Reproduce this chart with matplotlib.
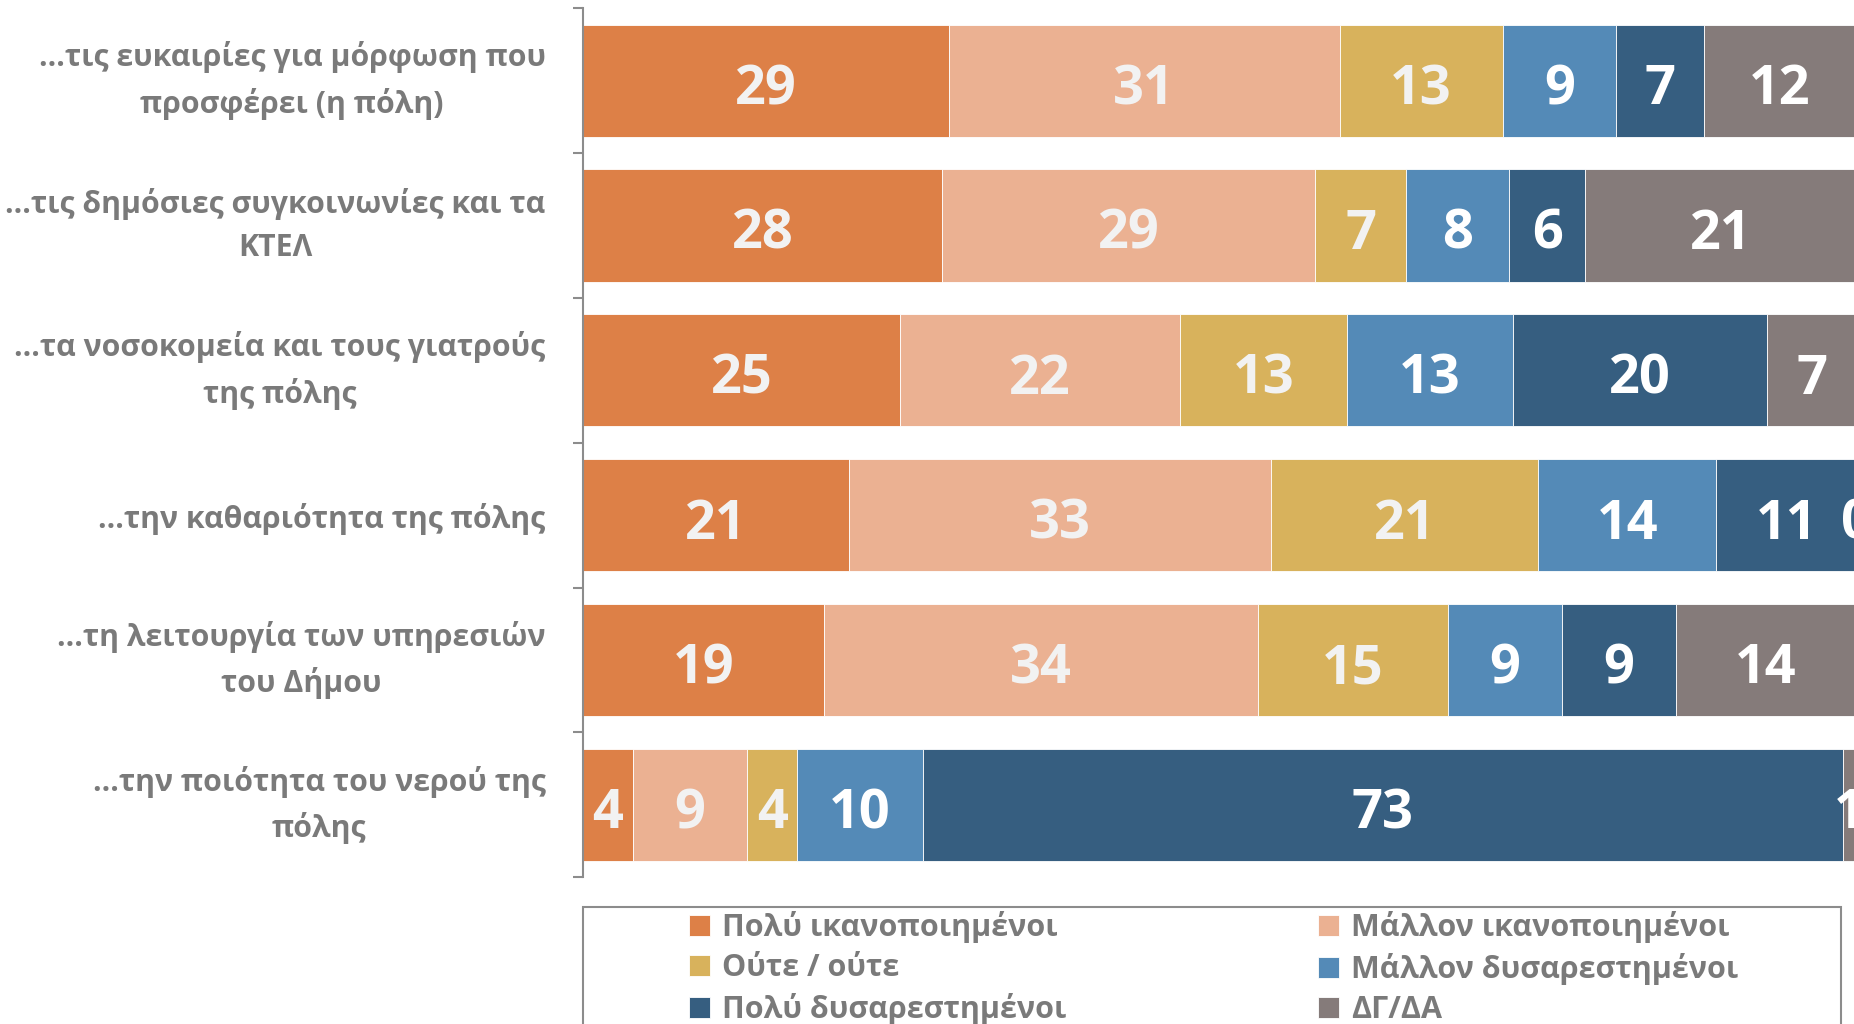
import numpy as np
import matplotlib.pyplot as plt
from matplotlib.patches import Rectangle

plt.rcParams['font.family'] = ['Open Sans', 'DejaVu Sans']

categories = [
    "...τις ευκαιρίες για μόρφωση που\nπροσφέρει (η πόλη)",
    "...τις δημόσιες συγκοινωνίες και τα\nΚΤΕΛ",
    "...τα νοσοκομεία και τους γιατρούς\nτης πόλης",
    "...την καθαριότητα της πόλης",
    "...τη λειτουργία των υπηρεσιών\nτου Δήμου",
    "...την ποιότητα του νερού της\nπόλης",
]

series_names = ["Πολύ ικανοποιημένοι", "Μάλλον ικανοποιημένοι", "Ούτε / ούτε",
                "Μάλλον δυσαρεστημένοι", "Πολύ δυσαρεστημένοι", "ΔΓ/ΔΑ"]
colors = ["#DD8047", "#EBB192", "#D8B25C", "#548AB7", "#365E80", "#857B7A"]
label_colors = ["#F2F2F2", "#F2F2F2", "#F2F2F2", "white", "white", "white"]

# segment widths (%)
polu_ikan = [28.7, 28.2, 24.9, 20.9, 18.9, 3.9]
mallon_ikan = [30.7, 29.3, 22.0, 33.1, 34.1, 9.0]
oute = [12.8, 7.1, 13.1, 21.0, 14.9, 3.9]
mallon_dys = [8.9, 8.1, 13.0, 14.0, 9.0, 9.9]
polu_dys = [6.9, 6.0, 20.0, 11.0, 8.9, 72.2]
dg_da = [12.0, 21.3, 7.0, 0.0, 14.2, 1.1]

# rounded numbers printed on the bars
polu_ikan_lbl = [29, 28, 25, 21, 19, 4]
mallon_ikan_lbl = [31, 29, 22, 33, 34, 9]
oute_lbl = [13, 7, 13, 21, 15, 4]
mallon_dys_lbl = [9, 8, 13, 14, 9, 10]
polu_dys_lbl = [7, 6, 20, 11, 9, 73]
dg_da_lbl = [12, 21, 7, 0, 14, 1]

values = [polu_ikan, mallon_ikan, oute, mallon_dys, polu_dys, dg_da]
labels = [polu_ikan_lbl, mallon_ikan_lbl, oute_lbl, mallon_dys_lbl, polu_dys_lbl, dg_da_lbl]

grey = "#7A7A7A"

fig = plt.figure(figsize=(18.54, 10.24), dpi=100)
ax = fig.add_axes([0.3145, 0.1433, 0.6855, 0.8486])

y = np.arange(len(categories))
left = np.zeros(len(categories))
handles = []
for vals, lbl, c, lc, name in zip(values, labels, colors, label_colors, series_names):
    vals = np.array(vals)
    bars = ax.barh(y, vals, left=left, height=0.775, color=c,
                   edgecolor="white", linewidth=0.6, label=name)
    # labels centred on each segment (also the zero-width ones at the edge)
    for yi, xc, txt in zip(y, left + vals / 2, lbl):
        ax.text(xc, yi + 0.02, str(txt), ha="center", va="center_baseline", color=lc,
                fontsize=39, fontweight="bold", clip_on=False)
    handles.append(bars)
    left += vals

ax.set_xlim(0, 99.8)
ax.set_ylim(5.5, -0.5)

ax.set_yticks(y)
ax.set_yticklabels(categories, fontsize=21.8, fontweight="bold", color=grey, linespacing=1.58)
for t in ax.get_yticklabels():
    t.set_multialignment("center")
    if "\n" in t.get_text():
        t.set_verticalalignment("center")
ax.tick_params(axis="y", which="major", length=0, pad=27)
ax.set_yticks(np.arange(-0.5, 6, 1), minor=True)
ax.tick_params(axis="y", which="minor", length=7, width=1.5, color="#8C8C8C", direction="out")

ax.xaxis.set_visible(False)
for s in ["top", "right", "bottom"]:
    ax.spines[s].set_visible(False)
ax.spines["left"].set_color("#8C8C8C")
ax.spines["left"].set_linewidth(1.5)

# legend: two columns, box runs off the bottom of the picture
leg_prop = dict(weight="bold", size=22)
for idx, xpos in [([0, 2, 4], 689 / 1854), ([1, 3, 5], 1318 / 1854)]:
    fig.legend([handles[i] for i in idx], [series_names[i] for i in idx],
               loc="upper left", bbox_to_anchor=(xpos, 0.1104), frameon=False,
               borderpad=0, borderaxespad=0, handlelength=0.68, handleheight=0.68,
               handletextpad=0.4, labelspacing=0.33, prop=leg_prop, labelcolor=grey)

fig.patches.append(Rectangle((0.3145, -0.05), 0.6785, 0.1643, transform=fig.transFigure,
                             fill=False, edgecolor="#8C8C8C", linewidth=1.5))

fig.savefig("out.png", dpi=100)
